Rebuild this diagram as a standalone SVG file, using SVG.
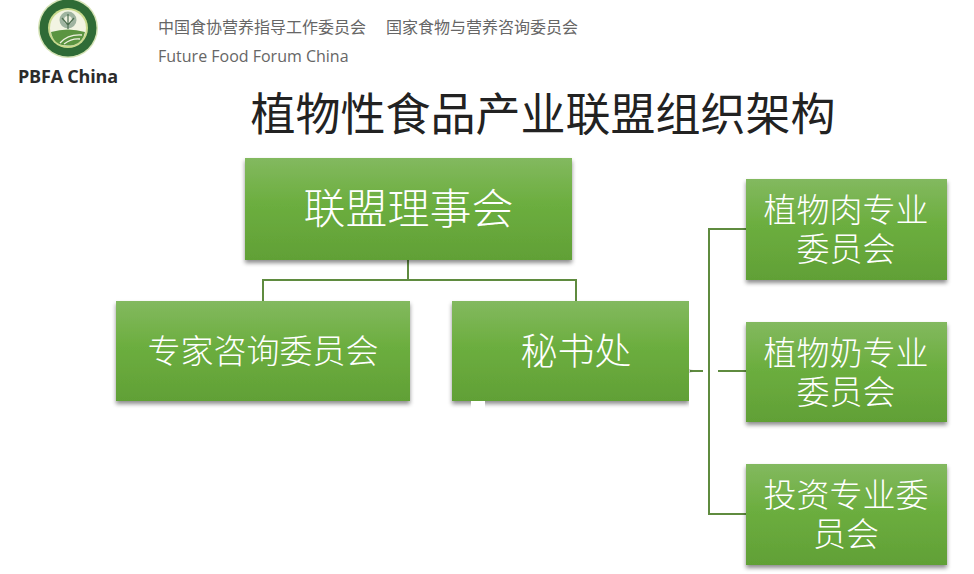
<svg xmlns="http://www.w3.org/2000/svg" width="974" height="574" viewBox="0 0 974 574">
<defs>
<linearGradient id="g" x1="0" y1="0" x2="0" y2="1"><stop offset="0" stop-color="#83b95f"/><stop offset="0.45" stop-color="#6cae3f"/><stop offset="1" stop-color="#61a036"/></linearGradient>
<filter id="s" x="-5%" y="-5%" width="110%" height="115%"><feDropShadow dx="0" dy="3" stdDeviation="2" flood-color="#000" flood-opacity="0.45"/></filter>
</defs>
<style>
text{font-family:"Noto Sans CJK SC","Open Sans",sans-serif}
.box{fill:url(#g);filter:url(#s)}
.t{fill:#fff;text-anchor:middle;font-weight:300}
.h{fill:#666;font-size:16px}
.c{fill:none;stroke:#5f8b3f;stroke-width:2}
</style>
<rect width="974" height="574" fill="#fff"/>
<g id="logo">
<circle cx="68" cy="28" r="30" fill="#d5e3b5"/>
<circle cx="68" cy="28" r="28.500" fill="#2f6b36"/>
<circle cx="68" cy="28" r="20" fill="#c9da8e"/>
<circle cx="68" cy="28" r="18" fill="#f2f4e2"/>
<circle cx="68" cy="20" r="8.500" fill="#9fb4a0"/>
<circle cx="68" cy="20" r="4" fill="#eef1e0"/>
<path d="M68 14V29M62 18L68 25L74 18" fill="none" stroke="#4e6e50" stroke-width="1.200"/>
<path d="M51 32Q68 27 85 32Q83 42 74 45Q62 47 56 42Q52 38 51 32Z" fill="#5a9440"/>
<path d="M60 43Q68 34 82 35M64 44Q72 38 80 39" fill="none" stroke="#eef1e0" stroke-width="1.300"/>
</g>
<g id="header">
<text x="18" y="83" style="font-family:'Open Sans',sans-serif;font-size:18px;font-weight:700" fill="#2b2b2b" textLength="100">PBFA China</text>
<text class="h" x="158" y="33">中国食协营养指导工作委员会</text>
<text class="h" x="386" y="33">国家食物与营养咨询委员会</text>
<text class="h" x="158" y="62" style="font-family:'Open Sans',sans-serif">Future Food Forum China</text>
</g>
<text id="title" x="543" y="131" text-anchor="middle" font-size="45" fill="#222">植物性食品产业联盟组织架构</text>
<g id="connectors">
<path class="c" d="M408 260V280M263 301V280H576V301"/>
<path class="c" d="M690 371H703M718 371H746M746 229H709V514H746"/>
</g>
<g id="n1"><rect class="box" x="245" y="158" width="327" height="102"/><text class="t" x="408.500" y="224" font-size="42">联盟理事会</text></g>
<g id="n2"><rect class="box" x="116" y="301" width="294" height="100"/><text class="t" x="263" y="363" font-size="33">专家咨询委员会</text></g>
<g id="n3"><rect class="box" x="452" y="301" width="237" height="100"/><rect x="689" y="299" width="7" height="70" fill="#fff"/><rect x="689" y="373" width="7" height="37" fill="#fff"/><text class="t" x="576" y="365" font-size="37">秘书处</text></g>
<rect x="471" y="401" width="14" height="9" fill="#fff"/>
<g id="n4"><rect class="box" x="746" y="179" width="201" height="101"/><text class="t" font-size="33"><tspan x="846" y="222">植物肉专业</tspan><tspan x="846" y="261">委员会</tspan></text></g>
<g id="n5"><rect class="box" x="746" y="322" width="201" height="100"/><text class="t" font-size="33"><tspan x="846" y="365">植物奶专业</tspan><tspan x="846" y="404">委员会</tspan></text></g>
<g id="n6"><rect class="box" x="746" y="464" width="201" height="101"/><text class="t" font-size="33"><tspan x="846" y="507">投资专业委</tspan><tspan x="846" y="546">员会</tspan></text></g>
</svg>
